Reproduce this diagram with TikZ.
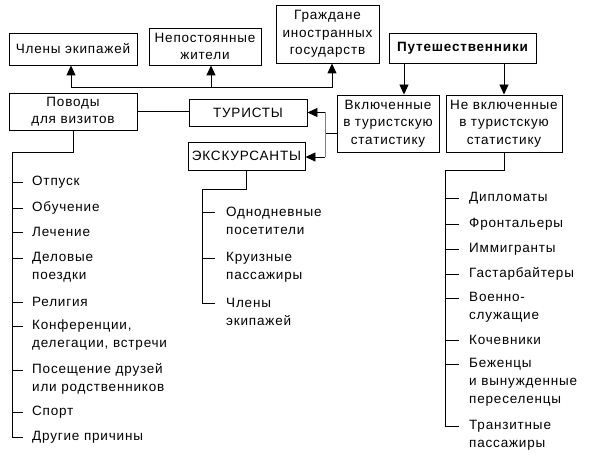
\documentclass[tikz,border=0pt]{standalone}
\usepackage{fontspec}
\setmainfont{Liberation Sans}[LetterSpace=6]
\usetikzlibrary{arrows.meta}
\begin{document}
\begin{tikzpicture}[x=1pt,y=-1pt,
  box/.style={draw, line width=0.9pt, inner sep=0pt, align=center, font=\fontsize{13.5}{17.5}\selectfont},
  item/.style={anchor=west, inner sep=0pt, align=left, font=\fontsize{13.5}{18}\selectfont},
  ln/.style={line width=0.9pt},
  tip/.tip={Triangle[length=10pt,width=9pt]},
  arr/.style={ln, -tip},
]
\useasboundingbox (0,0) rectangle (590,460);
% boxes
\node[box, minimum width=128, minimum height=32] (clen) at (73,49) {Члены экипажей};
\node[box, minimum width=112, minimum height=37] (nep) at (205,46.5) {Непостоянные\\жители};
\node[box, minimum width=103, minimum height=58] (gr) at (327.5,34) {Граждане\\иностранных\\государств};
\node[box, minimum width=147, minimum height=30, font=\fontsize{13.5}{17.5}\selectfont\bfseries] (put) at (462.5,48) {Путешественники};
\node[box, minimum width=102, minimum height=57] (vkl) at (388,123.5) {Включенные\\в туристскую\\статистику};
\node[box, minimum width=116, minimum height=57] (nvkl) at (504,123.5) {Не включенные\\в туристскую\\статистику};
\node[box, minimum width=128, minimum height=37] (pov) at (73,111.5) {Поводы\\для визитов};
\node[box, minimum width=118, minimum height=27] (tur) at (248,112.5) {ТУРИСТЫ};
\node[box, minimum width=117, minimum height=28] (eks) at (246.5,156) {ЭКСКУРСАНТЫ};

% top bracket with arrows
\coordinate (topL) at (71,87);
\coordinate (topM) at (211,87);
\coordinate (topR) at (332,87);
\draw[ln, tip-tip] (topL |- clen.south) -- (topL) -- (topR) -- (topR |- gr.south);
\draw[arr] (topM) -- (topM |- nep.south);

% Путешественники arrows
\draw[arr] ([xshift=-58.5pt]put.south) -- ([xshift=-58.5pt]put.south |- vkl.north);
\draw[arr] (nvkl.north |- put.south) -- (nvkl.north);

% Поводы -- ТУРИСТЫ
\draw[ln] (pov.east) -- (pov.east -| tur.west);

% Включенные -> ТУРИСТЫ, ЭКСКУРСАНТЫ
\coordinate (bus) at (325,133);
\coordinate (bt) at (325,112.5);
\coordinate (be) at (325,157);
\draw[ln] (bus) -- (bus -| vkl.west);
\draw[ln, gray] (bt) -- (be);
\draw[arr] (bt) -- (bt -| tur.east);
\draw[arr] (be) -- (be -| eks.east);

% left list
\coordinate (lb) at (12,152);
\draw[ln] (pov.south) |- (lb) -- (12,437);
\foreach \y/\n/\t in {182/1/Отпуск, 208/1/Обучение, 232/1/Лечение, 258/2/{Деловые\\поездки},
  302/1/Религия, 326/2/{Конференции,\\делегации, встречи}, 370/2/{Посещение друзей\\или родственников},
  412/1/Спорт, 437/1/Другие причины}{
  \node[item] (L\y) at (32,{\y+9*(\n-1)}) {\t};
  \draw[ln] (12,\y) -- (23,\y);
}

% middle list
\coordinate (mb) at (202,189);
\draw[ln] (eks.south) |- (mb) -- (202,303);
\foreach \y/\n/\t in {212/2/{Однодневные\\посетители}, 258/2/{Круизные\\пассажиры}, 303/2/{Члены\\экипажей}}{
  \node[item] (M\y) at (226,{\y+9*(\n-1)}) {\t};
  \draw[ln] (202,\y) -- (215,\y);
}

% right list
\coordinate (rb) at (445,170);
\draw[ln] (nvkl.south) |- (rb) -- (445,426);
\foreach \y/\n/\t in {198/1/Дипломаты, 224/1/Фронтальеры, 249/1/Иммигранты, 274/1/Гастарбайтеры,
  298/2/{Военно-\\служащие}, 340/1/Кочевники, 364/3/{Беженцы\\и вынужденные\\переселенцы},
  426/2/{Транзитные\\пассажиры}}{
  \node[item] (R\y) at (469,{\y+9*(\n-1)}) {\t};
  \draw[ln] (445,\y) -- (459,\y);
}
\end{tikzpicture}
\end{document}
